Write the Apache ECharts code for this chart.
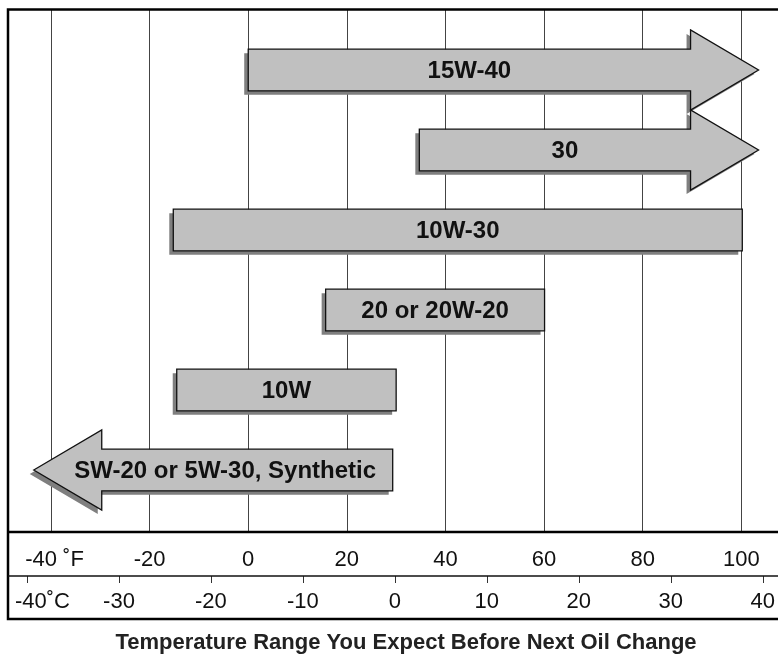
<!DOCTYPE html>
<html>
<head>
<meta charset="utf-8">
<title>Oil viscosity chart</title>
<script src="https://cdn.jsdelivr.net/npm/echarts@6/dist/echarts.min.js"></script>
<style>
  html, body { margin: 0; padding: 0; background: #fff; }
  #chart { width: 778px; height: 656px; }
</style>
</head>
<body>
<div id="chart"></div>
<script>
// oil grades, top to bottom
var grades = ['15W-40', '30', '10W-30', '20 or 20W-20', '10W', 'SW-20 or 5W-30, Synthetic'];
// range in deg F (arrow tips included)
var lowF = [0, 34.7, -15.2, 15.7, -14.5, -43.5];
var highF = [103.5, 103.5, 100.2, 60.1, 30, 29.3];
// 'right' / 'left' arrow or plain bar
var shapes = ['right', 'right', 'bar', 'bar', 'bar', 'left'];
// axis ticks
var ticksF = [-40, -20, 0, 20, 40, 60, 80, 100];
var ticksC = [-40, -30, -20, -10, 0, 10, 20, 30, 40];

var FONT = '"Liberation Sans", Arial, Helvetica, sans-serif';

var rows = grades.map(function (g, i) {
  return { name: g, value: [i, lowF[i], highF[i]] };
});

function renderItem(params, api) {
  var i = api.value(0);
  var a = api.coord([api.value(1), i]);
  var b = api.coord([api.value(2), i]);
  var y = a[1];
  var unit = api.size([0, 1])[1];
  var hb = unit * 0.26;   // half body height
  var hh = unit * 0.5;    // half head height
  var hl = 68;            // head length px
  var kind = shapes[i];
  var pts, tx;
  if (kind === 'right') {
    var xb = b[0] - hl;
    pts = [[a[0], y - hb], [xb, y - hb], [xb, y - hh], [b[0], y], [xb, y + hh], [xb, y + hb], [a[0], y + hb]];
    tx = (a[0] + xb) / 2 + (i === 1 ? 10 : 0);
  } else if (kind === 'left') {
    var xl = a[0] + hl;
    pts = [[a[0], y], [xl, y - hh], [xl, y - hb], [b[0], y - hb], [b[0], y + hb], [xl, y + hb], [xl, y + hh]];
    tx = (a[0] + b[0]) / 2 + 12;
  } else {
    pts = [[a[0], y - hb], [b[0], y - hb], [b[0], y + hb], [a[0], y + hb]];
    tx = (a[0] + b[0]) / 2;
  }
  var shadow = pts.map(function (p) { return [p[0] - 4, p[1] + 4]; });
  return {
    type: 'group',
    children: [
      { type: 'polygon', shape: { points: shadow }, style: { fill: '#7f7f7f' } },
      { type: 'polygon', shape: { points: pts }, style: { fill: '#c0c0c0', stroke: '#111', lineWidth: 1.3 } },
      {
        type: 'text',
        style: {
          text: grades[i], x: tx, y: y + 1, align: 'center', verticalAlign: 'middle',
          font: 'bold 24px ' + FONT, fill: '#111'
        }
      }
    ]
  };
}

var chart = echarts.init(document.getElementById('chart'), null, { renderer: 'canvas' });
chart.setOption({
  animation: false,
  backgroundColor: '#fff',
  grid: [
    { left: 51, right: 36.7, top: 10, height: 522 },
    { left: 27, right: 14, top: 560, height: 16 }
  ],
  xAxis: [
    {
      gridIndex: 0, type: 'value', min: ticksF[0], max: ticksF[ticksF.length - 1], interval: 20,
      axisLine: { show: false }, axisTick: { show: false },
      splitLine: { show: true, lineStyle: { color: '#444', width: 1 } },
      axisLabel: {
        margin: 17, color: '#111', fontSize: 22, fontFamily: FONT,
        formatter: function (v) { return v === ticksF[0] ? '{f|' + v + ' ˚F}' : String(v); },
        rich: { f: { fontSize: 22, fontFamily: FONT, color: '#111', padding: [0, 0, 0, 7] } }
      }
    },
    {
      gridIndex: 1, type: 'value', min: ticksC[0], max: ticksC[ticksC.length - 1], interval: 10,
      axisLine: { show: false },
      axisTick: { show: true, length: 7, lineStyle: { color: '#333', width: 1 } },
      splitLine: { show: false },
      axisLabel: {
        margin: 15, color: '#111', fontSize: 22, fontFamily: FONT,
        formatter: function (v) { return v === ticksC[0] ? '{c|' + v + '˚C}' : String(v); },
        rich: { c: { fontSize: 22, fontFamily: FONT, color: '#111', padding: [0, 0, 0, 31] } }
      }
    }
  ],
  yAxis: [
    { gridIndex: 0, type: 'value', inverse: true, min: -0.75, max: 5.775, show: false },
    { gridIndex: 1, type: 'value', show: false }
  ],
  series: [{
    type: 'custom',
    xAxisIndex: 0,
    yAxisIndex: 0,
    clip: false,
    renderItem: renderItem,
    data: rows,
    z: 5
  }],
  graphic: [
    { type: 'rect', shape: { x: 8, y: 9.5, width: 790, height: 609.5 }, style: { fill: null, stroke: '#000', lineWidth: 2.5 }, z: 10 },
    { type: 'line', shape: { x1: 8, y1: 532, x2: 778, y2: 532 }, style: { stroke: '#000', lineWidth: 2.5 }, z: 10 },
    { type: 'line', shape: { x1: 8, y1: 576, x2: 778, y2: 576 }, style: { stroke: '#111', lineWidth: 1.3 }, z: 10 },
    {
      type: 'text', x: 406, y: 643,
      style: {
        text: 'Temperature Range You Expect Before Next Oil Change', font: 'bold 22px ' + FONT,
        fill: '#222', align: 'center', verticalAlign: 'middle'
      }
    }
  ]
});
</script>
</body>
</html>
